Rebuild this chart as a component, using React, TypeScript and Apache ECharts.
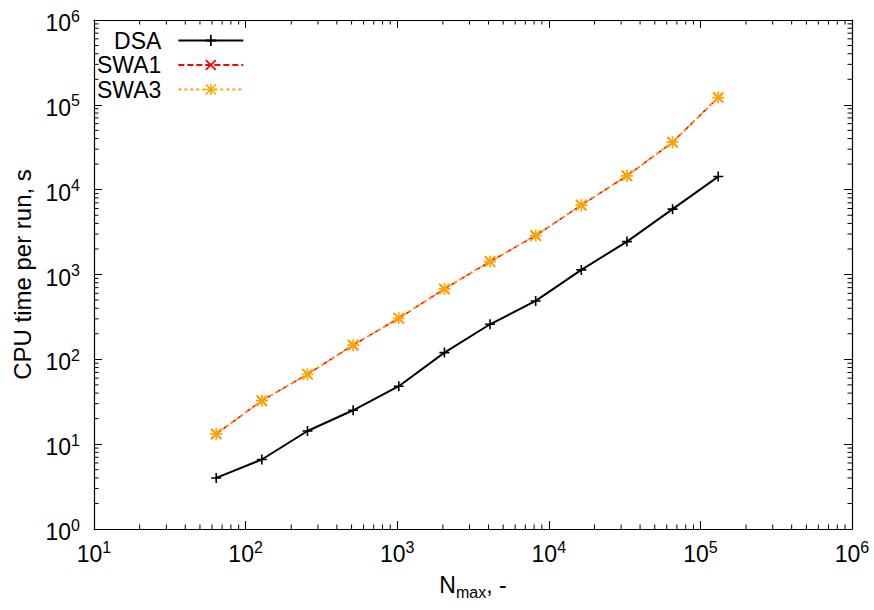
import React, { useEffect, useRef } from "react";
import * as echarts from "echarts";

// Problem size N_max (powers of two) and measured CPU time per run, s
const nMax = [64, 128, 256, 512, 1024, 2048, 4096, 8192, 16384, 32768, 65536, 131072];
const dsaTime = [4.0, 6.6, 14.3, 25.1, 48.2, 120, 259, 488, 1133, 2444, 5890, 14270];
const swa1Time = [13.2, 32.6, 66.7, 147, 305, 676, 1419, 2876, 6560, 14550, 36300, 121900];
const swa3Time = [13.2, 32.6, 66.7, 147, 305, 676, 1419, 2876, 6560, 14550, 36300, 121900];

const seriesNames = ["DSA", "SWA1", "SWA3"];
const seriesColors = ["#000000", "#ff0000", "#ffa500"];

const X_MIN = 10;
const X_MAX = 1e6;
const Y_MIN = 1;
const Y_MAX = 1e6;

const FONT = "'Liberation Sans', Arial, Helvetica, sans-serif";
const MAJOR_TICK = 8;
const MINOR_TICK = 4.5;

// gnuplot-style point types: plus, cross, asterisk
const PLUS = "path://M42,0H58V42H100V58H58V100H42V58H0V42H42Z";
const CROSS = "path://M11,0L100,89L89,100L0,11Z M89,0L100,11L11,100L0,89Z";
const STAR =
  "path://M43,0H57V43H100V57H57V100H43V57H0V43H43Z M10,0L100,90L90,100L0,10Z M90,0L100,10L10,100L0,90Z";

// minor tick positions 2..9 within each decade
function minorTicks(fromExp: number, toExp: number): number[] {
  const out: number[] = [];
  for (let e = fromExp; e < toExp; e++) {
    for (let m = 2; m <= 9; m++) out.push(m * Math.pow(10, e));
  }
  return out;
}
const xMinor = minorTicks(1, 6);
const yMinor = minorTicks(0, 6);

const powerLabel = (v: number) => `{b|10}{s|${Math.round(Math.log10(v))}}`;

const labelRich = {
  b: { fontSize: 23, fontFamily: FONT, color: "#000", lineHeight: 30 },
  s: { fontSize: 16, fontFamily: FONT, color: "#000", lineHeight: 15, verticalAlign: "top" },
};

const tickLine = (x1: number, y1: number, x2: number, y2: number) => ({
  type: "line",
  shape: { x1, y1, x2, y2 },
  style: { stroke: "#000", lineWidth: 1 },
});

export default function App() {
  const ref = useRef<HTMLDivElement>(null);

  useEffect(() => {
    if (!ref.current) return;
    const chart = echarts.init(ref.current, undefined, { renderer: "svg" });

    const axisCommon = {
      type: "log",
      logBase: 10,
      splitLine: { show: false },
      axisLine: { show: true, lineStyle: { color: "#000", width: 1.2 } },
      axisTick: { show: true, inside: true, length: MAJOR_TICK, lineStyle: { color: "#000", width: 1 } },
    };

    const pairs = (vals: number[]) => nMax.map((n, i) => [n, vals[i]]);

    chart.setOption({
      animation: false,
      backgroundColor: "#ffffff",
      grid: { left: 94, right: 22, top: 20, bottom: 81, containLabel: false },
      legend: {
        data: seriesNames,
        orient: "vertical",
        align: "right",
        left: 97,
        top: 29,
        padding: 0,
        itemWidth: 65,
        itemHeight: 14,
        itemGap: 1.5,
        selectedMode: false,
        textStyle: {
          fontSize: 23,
          lineHeight: 22,
          fontFamily: FONT,
          color: "#000",
          padding: [0, 12, 0, 0],
        },
      },
      xAxis: [
        {
          ...axisCommon,
          position: "bottom",
          min: X_MIN,
          max: X_MAX,
          name: "{n|N}{m|max}{n|, -}",
          nameLocation: "middle",
          nameGap: 41,
          nameTextStyle: {
            rich: {
              n: { fontSize: 23, fontFamily: FONT, color: "#000", lineHeight: 30 },
              m: { fontSize: 16, fontFamily: FONT, color: "#000", lineHeight: 18, verticalAlign: "bottom" },
            },
          },
          axisLabel: { margin: 10, formatter: powerLabel, rich: labelRich },
        },
        {
          ...axisCommon,
          position: "top",
          min: X_MIN,
          max: X_MAX,
          axisLabel: { show: false },
        },
      ],
      yAxis: [
        {
          ...axisCommon,
          position: "left",
          min: Y_MIN,
          max: Y_MAX,
          name: "CPU time per run, s",
          nameLocation: "middle",
          nameGap: 60,
          nameTextStyle: { fontSize: 24, fontFamily: FONT, color: "#000" },
          axisLabel: { margin: 14, formatter: powerLabel, rich: labelRich, padding: [6, 0, 0, 0] },
        },
        {
          ...axisCommon,
          position: "right",
          min: Y_MIN,
          max: Y_MAX,
          axisLabel: { show: false },
        },
      ],
      series: [
        {
          name: "DSA",
          type: "line",
          data: pairs(dsaTime),
          color: seriesColors[0],
          symbol: PLUS,
          symbolSize: 10,
          showAllSymbol: true,
          lineStyle: { color: seriesColors[0], width: 2 },
          itemStyle: { color: seriesColors[0] },
          z: 3,
        },
        {
          name: "SWA1",
          type: "line",
          data: pairs(swa1Time),
          color: seriesColors[1],
          symbol: CROSS,
          symbolSize: 10,
          showAllSymbol: true,
          lineStyle: { color: seriesColors[1], width: 1.5, type: [6, 3] },
          itemStyle: { color: seriesColors[1] },
          z: 4,
        },
        {
          name: "SWA3",
          type: "line",
          data: pairs(swa3Time),
          color: seriesColors[2],
          symbol: STAR,
          symbolSize: 12,
          showAllSymbol: true,
          lineStyle: { color: seriesColors[2], width: 1.5, type: [3, 3] },
          itemStyle: { color: seriesColors[2] },
          z: 5,
        },
        {
          name: "xMinorTicks",
          type: "custom",
          silent: true,
          data: xMinor.map((v) => [v, Y_MIN]),
          renderItem: (_p: any, api: any) => {
            const v = api.value(0);
            const b = api.coord([v, Y_MIN]);
            const t = api.coord([v, Y_MAX]);
            return {
              type: "group",
              children: [
                tickLine(b[0], b[1], b[0], b[1] - MINOR_TICK),
                tickLine(t[0], t[1], t[0], t[1] + MINOR_TICK),
              ],
            };
          },
          z: 2,
        },
        {
          name: "yMinorTicks",
          type: "custom",
          silent: true,
          data: yMinor.map((v) => [X_MIN, v]),
          renderItem: (_p: any, api: any) => {
            const v = api.value(1);
            const l = api.coord([X_MIN, v]);
            const r = api.coord([X_MAX, v]);
            return {
              type: "group",
              children: [
                tickLine(l[0], l[1], l[0] + MINOR_TICK, l[1]),
                tickLine(r[0], r[1], r[0] - MINOR_TICK, r[1]),
              ],
            };
          },
          z: 2,
        },
      ],
    });

    return () => chart.dispose();
  }, []);

  return (
    <div
      ref={ref}
      style={{ position: "absolute", left: 0, top: 0, width: 874, height: 610, background: "#fff" }}
    />
  );
}
